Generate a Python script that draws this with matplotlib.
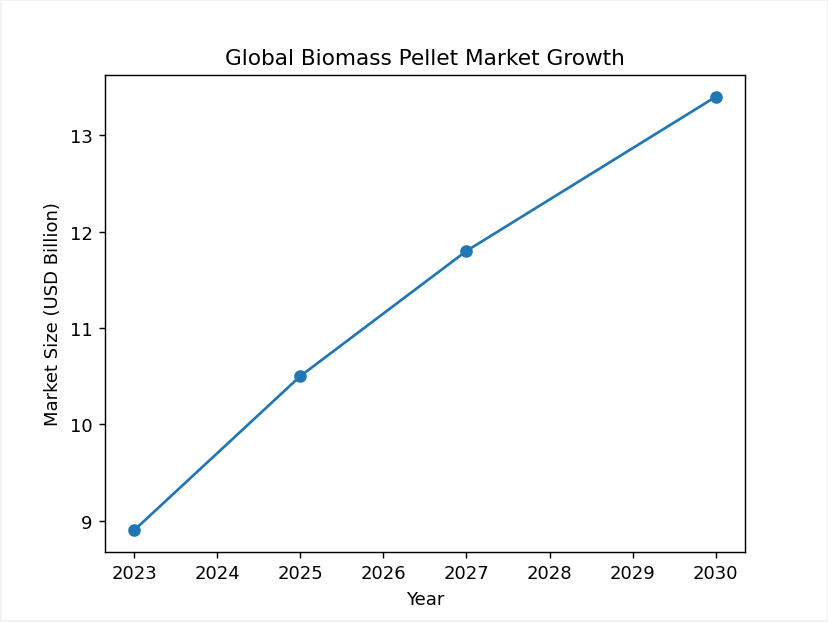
import matplotlib
matplotlib.use("Agg")
import matplotlib.pyplot as plt

years = [2023, 2025, 2027, 2030]
market_size = [8.9, 10.5, 11.8, 13.4]

fig, ax = plt.subplots(figsize=(6.4, 4.81), dpi=129.5)
fig.subplots_adjust(left=0.1267, right=0.8987, bottom=0.1124, top=0.878)
ax.plot(years, market_size, marker="o")
ax.set_title("Global Biomass Pellet Market Growth")
ax.set_xlabel("Year")
ax.set_ylabel("Market Size (USD Billion)")
ax.set_xticks(range(2023, 2031))

# faint frame like the screenshot edge
fig.patch.set_edgecolor("#f2f2f2")
fig.patch.set_linewidth(2)

fig.savefig("out.png", dpi=129.5, edgecolor=fig.get_edgecolor())
